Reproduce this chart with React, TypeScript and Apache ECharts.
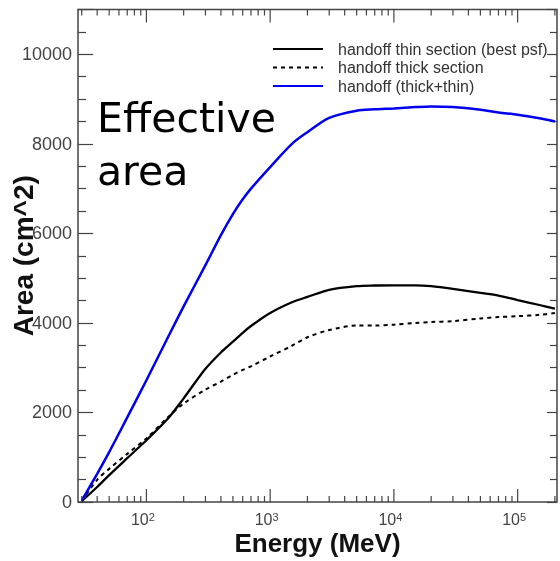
import React, { useEffect, useRef } from 'react';
import * as echarts from 'echarts';

// Energy grid (MeV) and effective area values (cm^2)
const energies = [30, 40, 50, 70, 100, 150, 200, 300, 400, 500, 600, 700, 1000, 1500, 2000, 3000, 5000, 7000, 10000, 15000, 20000, 30000, 50000, 70000, 100000, 150000, 200000];
const thinValues = [20, 335, 600, 980, 1380, 1870, 2315, 2975, 3340, 3580, 3780, 3930, 4220, 4460, 4580, 4740, 4820, 4835, 4840, 4840, 4820, 4760, 4670, 4610, 4510, 4400, 4320];
const thickValues = [20, 495, 740, 1075, 1420, 1900, 2200, 2510, 2690, 2840, 2950, 3030, 3250, 3490, 3680, 3840, 3940, 3940, 3960, 4000, 4020, 4040, 4100, 4130, 4150, 4180, 4220];
const bothValues = [30, 630, 1115, 1890, 2720, 3690, 4370, 5290, 5960, 6430, 6760, 7000, 7480, 8000, 8260, 8580, 8740, 8770, 8790, 8820, 8835, 8820, 8760, 8700, 8650, 8570, 8500];

const seriesNames = ['handoff thin section (best psf)', 'handoff thick section', 'handoff (thick+thin)'];

const xMajorTicks = [100, 1000, 10000, 100000];
const xMinorTicks = [
  30, 40, 50, 60, 70, 80, 90,
  200, 300, 400, 500, 600, 700, 800, 900,
  2000, 3000, 4000, 5000, 6000, 7000, 8000, 9000,
  20000, 30000, 40000, 50000, 60000, 70000, 80000, 90000,
  200000,
];
const xMin = 28;
const xMax = 208000;
const yMin = 0;
const yMax = 11000;
const yStep = 2000;

const xTitle = 'Energy (MeV)';
const yTitle = 'Area (cm^2)';
const bigTextLines = ['Effective', 'area'];

export default function App() {
  const ref = useRef<HTMLDivElement>(null);

  useEffect(() => {
    if (!ref.current) return;
    const chart = echarts.init(ref.current, null, { renderer: 'svg' });
    const font = '"Liberation Sans", Arial, sans-serif';
    const axisColor = '#444';
    const pair = (vals: number[]) => energies.map((e, i) => [e, vals[i]]);
    const tickData = [
      ...xMajorTicks.map((v) => [v, 1]),
      ...xMinorTicks.map((v) => [v, 0]),
    ];

    chart.setOption({
      animation: false,
      grid: {
        left: 78,
        right: 3,
        top: 9.5,
        bottom: 59,
        show: true,
        containLabel: false,
        outerBoundsMode: 'none',
        borderColor: axisColor,
        borderWidth: 1.5,
        backgroundColor: 'transparent',
      },
      legend: {
        data: seriesNames,
        orient: 'vertical',
        left: 267,
        top: 36,
        itemWidth: 50,
        itemHeight: 16,
        itemGap: 2.5,
        itemStyle: { opacity: 0 },
        textStyle: { fontFamily: font, fontSize: 16, color: '#333', padding: [0, 0, 0, 10] },
      },
      xAxis: {
        type: 'log',
        logBase: 10,
        min: xMin,
        max: xMax,
        name: xTitle,
        nameLocation: 'middle',
        nameGap: 28,
        nameMoveOverlap: false,
        nameTextStyle: { fontFamily: font, fontSize: 26, fontWeight: 'bold', color: '#111' },
        axisLine: { show: false },
        axisTick: { show: false },
        splitLine: { show: false },
        minorTick: { show: false },
        axisLabel: {
          margin: 9,
          padding: [0, 7, 0, 0],
          showMinLabel: false,
          showMaxLabel: false,
          formatter: (v: number) => {
            const l = Math.log10(v);
            const e = Math.round(l);
            if (Math.abs(l - e) > 1e-6) return '';
            return `{b|10}{s|${e}}`;
          },
          rich: {
            b: { fontSize: 16, color: axisColor, fontFamily: font },
            s: { fontSize: 11, color: axisColor, fontFamily: font, verticalAlign: 'top', padding: [0, 0, 6, 0] },
          },
        },
      },
      yAxis: [
        {
          type: 'value',
          min: yMin,
          max: yMax,
          interval: yStep,
          name: yTitle,
          nameLocation: 'middle',
          nameRotate: 90,
          nameGap: 41,
          nameMoveOverlap: false,
          nameTextStyle: { fontFamily: font, fontSize: 28, fontWeight: 'bold', color: '#111' },
          axisLine: { show: false },
          splitLine: { show: false },
          axisTick: { show: true, inside: true, length: 15, lineStyle: { color: axisColor, width: 1.2 } },
          minorTick: { show: true, splitNumber: 4, length: 8, lineStyle: { color: axisColor, width: 1.2 } },
          axisLabel: {
            fontSize: 18,
            color: axisColor,
            fontFamily: font,
            margin: 6,
            formatter: (v: number) => (v % yStep === 0 ? String(v) : ''),
          },
        },
        {
          type: 'value',
          position: 'right',
          min: yMin,
          max: yMax,
          interval: yStep,
          axisLine: { show: false },
          splitLine: { show: false },
          axisLabel: { show: false },
          axisTick: { show: true, inside: true, length: 10, lineStyle: { color: axisColor, width: 1.2 } },
          minorTick: { show: true, splitNumber: 4, length: 7, lineStyle: { color: axisColor, width: 1.2 } },
        },
      ],
      series: [
        {
          name: 'xticks',
          type: 'custom',
          silent: true,
          z: 5,
          encode: { x: 0, y: 1 },
          data: tickData,
          renderItem: (params: any, api: any) => {
            const v = api.value(0);
            const major = api.value(1) === 1;
            const len = major ? 13 : 6;
            const pb = api.coord([v, yMin]);
            const pt = api.coord([v, yMax]);
            const style = { stroke: axisColor, lineWidth: 1.2 };
            return {
              type: 'group',
              children: [
                { type: 'line', shape: { x1: pb[0], y1: pb[1], x2: pb[0], y2: pb[1] - len }, style },
                { type: 'line', shape: { x1: pt[0], y1: pt[1], x2: pt[0], y2: pt[1] + len }, style },
              ],
            };
          },
        },
        {
          name: seriesNames[0],
          type: 'line',
          data: pair(thinValues),
          showSymbol: false,
          symbol: 'none',
          smooth: 0.3,
          color: '#000',
          lineStyle: { color: '#000', width: 2.3 },
          z: 3,
        },
        {
          name: seriesNames[1],
          type: 'line',
          data: pair(thickValues),
          showSymbol: false,
          symbol: 'none',
          smooth: 0.3,
          color: '#000',
          lineStyle: { color: '#000', width: 2, type: [4, 4] },
          z: 3,
        },
        {
          name: seriesNames[2],
          type: 'line',
          data: pair(bothValues),
          showSymbol: false,
          symbol: 'none',
          smooth: 0.3,
          color: '#0000ee',
          lineStyle: { color: '#0000ee', width: 2.5 },
          z: 4,
        },
      ],
      graphic: [
        {
          type: 'text',
          x: 97,
          y: 117.8,
          style: { text: bigTextLines[0], fontSize: 41, fontFamily: '"DejaVu Sans"', fill: '#000', verticalAlign: 'middle' },
        },
        {
          type: 'text',
          x: 97,
          y: 170.8,
          style: { text: bigTextLines[1], fontSize: 41, fontFamily: '"DejaVu Sans"', fill: '#000', verticalAlign: 'middle' },
        },
      ],
    });

    return () => chart.dispose();
  }, []);

  return <div ref={ref} style={{ position: 'fixed', left: 0, top: 0, width: 560, height: 561 }} />;
}
